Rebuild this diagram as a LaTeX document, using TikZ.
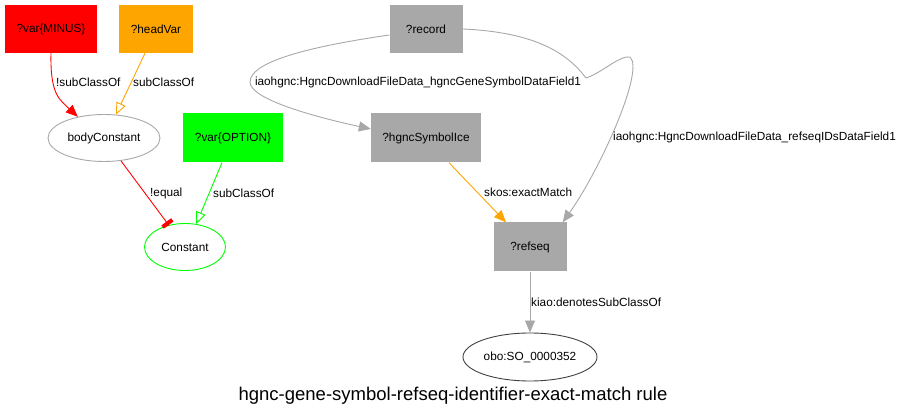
\documentclass[tikz,border=0pt]{standalone}
\usepackage{fontspec}
\setmainfont{Liberation Sans}
\usetikzlibrary{arrows.meta,shapes.geometric}
\definecolor{gv}{HTML}{A8A8A8}
\definecolor{og}{HTML}{FFA500}
\definecolor{gr}{HTML}{00FF00}
\tikzset{
  box/.style={rectangle, inner sep=0pt, font=\fontsize{11.8}{14}\selectfont},
  ell/.style={ellipse, draw, line width=0.9pt, inner sep=0pt, font=\fontsize{11.8}{14}\selectfont},
  lab/.style={inner sep=0pt, font=\fontsize{11.8}{14}\selectfont},
  edge/.style={line width=0.9pt},
  fa/.style={-{Triangle[length=12pt,width=10pt]}},
  oa/.style={-{Triangle[open,length=12pt,width=10pt,fill=white]}},
  ta/.style={-{Rectangle[length=4pt,width=12pt] Hooks[length=0pt,width=0pt]}}
}
\begin{document}
\begin{tikzpicture}[x=1pt,y=-1pt]
\useasboundingbox (0,0) rectangle (906,419);
% nodes
\node[box, fill=red, minimum width=92pt, minimum height=48pt] (m) at (51,29) {?var\{MINUS\}};
\node[box, fill=og, minimum width=74pt, minimum height=48pt] (hv) at (156,29) {?headVar};
\node[ell, draw=gv, minimum width=112pt, minimum height=47pt] (bc) at (104,138) {bodyConstant};
\node[box, fill=gr, minimum width=100pt, minimum height=49pt] (opt) at (233,138) {?var\{OPTION\}};
\node[ell, draw=gr, minimum width=81pt, minimum height=47pt] (c) at (185,247) {Constant};
\node[box, fill=gv, minimum width=73pt, minimum height=48pt] (rec) at (426,29) {?record};
\node[box, fill=gv, minimum width=110pt, minimum height=49pt] (hg) at (426,138) {?hgncSymbolIce};
\node[box, fill=gv, minimum width=73pt, minimum height=49pt] (rs) at (530,247) {?refseq};
\node[ell, draw=black!75, minimum width=134pt, minimum height=48pt] (obo) at (530,357) {obo:SO\_0000352};
\node[lab, font=\fontsize{18.5}{22}\selectfont] (title) at (453,396) {hgnc-gene-symbol-refseq-identifier-exact-match rule};
% edges
\draw[edge, red, fa] (m.south) .. controls (50,95) and (60,100) .. (bc.141);
\draw[edge, og, oa] ([xshift=-11pt]hv.south) -- (bc.63);
\draw[edge, red, ta] (bc) -- (c);
\draw[edge, gr, oa] ([xshift=-11pt]opt.south) -- (c.64);
\draw[edge, gv, fa] ([yshift=-6pt]rec.west) .. controls (320,45) and (250,60) .. (250,82)
   .. controls (250,100) and (320,118) .. ([yshift=9pt]hg.west);
\draw[edge, gv, fa] (rec.east) .. controls (530,32) and (565,50) .. (586,78)
   .. controls (600,74) and (620,55) .. (630,57)
   .. controls (645,70) and (600,170) .. ([xshift=-4pt]rs.north east);
\draw[edge, og, fa] ([xshift=23pt]hg.south) -- ([xshift=-24pt]rs.north);
\draw[edge, gv, fa] (rs) -- (obo);
% labels
\node[lab, anchor=west] (l1) at (56,82) {!subClassOf};
\node[lab, anchor=west] (l2) at (133,82) {subClassOf};
\node[lab, anchor=west] (l3) at (150,193) {!equal};
\node[lab, anchor=west] (l4) at (213,193) {subClassOf};
\node[lab] (l5) at (418,82) {iaohgnc:HgncDownloadFileData\_hgncGeneSymbolDataField1};
\node[lab, anchor=west] (l6) at (613,137) {iaohgnc:HgncDownloadFileData\_refseqIDsDataField1};
\node[lab, anchor=west] (l7) at (484,192) {skos:exactMatch};
\node[lab, anchor=west] (l8) at (531,302) {kiao:denotesSubClassOf};
\end{tikzpicture}
\end{document}
